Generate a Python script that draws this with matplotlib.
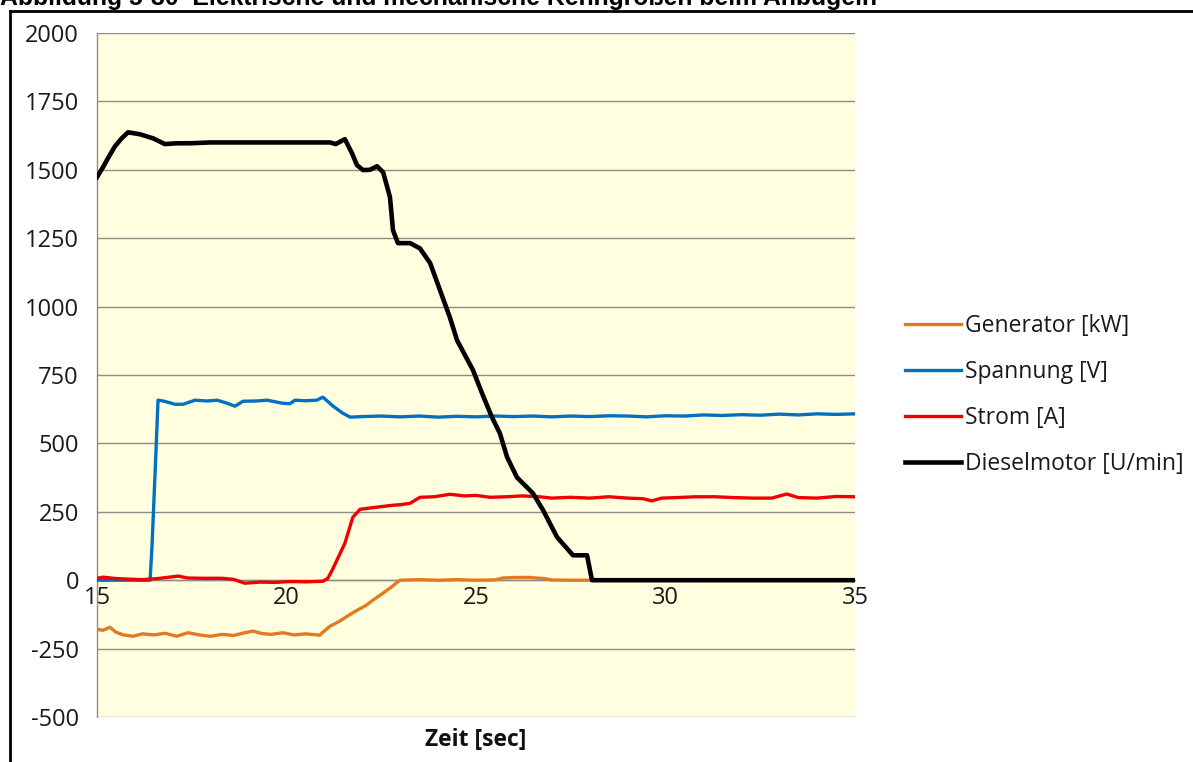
import matplotlib
matplotlib.use("Agg")
import matplotlib.pyplot as plt
from matplotlib.lines import Line2D

plt.rcParams["axes.unicode_minus"] = False

# ---------------- data ----------------
gen_t = [15.0, 15.16, 15.34, 15.5, 15.7, 15.95, 16.2, 16.5, 16.8, 17.1, 17.4, 17.7, 17.98,
         18.3, 18.6, 18.9, 19.12, 19.35, 19.6, 19.9, 20.2, 20.5, 20.88, 20.96, 21.15, 21.4,
         21.6, 21.86, 22.1, 22.28, 22.5, 22.73, 22.99, 23.5, 24.0, 24.5, 25.0, 25.5, 25.7,
         26.0, 26.4, 26.8, 27.0, 27.5, 28.0, 29.0, 30.0, 32.0, 35.0]
gen_v = [-180, -183, -172, -190, -200, -205, -196, -200, -194, -205, -192, -200, -205,
         -198, -202, -192, -186, -195, -198, -192, -200, -196, -201, -190, -168, -150,
         -132, -110, -92, -73, -52, -29, 0, 2, 0, 2, 0, 1, 8, 10, 10, 6, 1, 0, 0, 0, 0, 0, 0]

spg_t = [15.0, 16.0, 16.4, 16.45, 16.55, 16.61, 16.75, 17.06, 17.27, 17.59, 17.9, 18.17,
         18.43, 18.64, 18.85, 19.2, 19.49, 19.88, 20.09, 20.22, 20.5, 20.8, 20.96, 21.23,
         21.49, 21.68, 22.0, 22.5, 23.0, 23.5, 24.0, 24.5, 25.0, 25.5, 26.0, 26.5, 27.0,
         27.5, 28.0, 28.5, 29.0, 29.5, 30.0, 30.5, 31.0, 31.5, 32.0, 32.5, 33.0, 33.5,
         34.0, 34.5, 35.0]
spg_v = [0, 0, 0, 120, 450, 658, 655, 643, 643, 658, 655, 658,
         647, 636, 654, 655, 658, 647, 645, 658, 656, 658, 669, 636,
         610, 596, 598, 600, 597, 600, 596, 599, 597, 600, 598, 600, 597,
         600, 598, 601, 600, 597, 601, 600, 604, 602, 605, 603, 607, 604,
         608, 606, 608]

str_t = [15.0, 15.16, 15.5, 15.8, 16.2, 16.6, 17.14, 17.4, 17.8, 18.3, 18.6, 18.9,
         19.3, 19.7, 20.1, 20.5, 20.96, 21.09, 21.2, 21.33, 21.54, 21.75, 21.94, 22.1,
         22.39, 22.81, 23.0, 23.26, 23.52, 23.9, 24.31, 24.7, 25.0, 25.37, 25.8, 26.2,
         26.6, 27.0, 27.5, 28.0, 28.5, 29.0, 29.4, 29.64, 29.9, 30.3, 30.8, 31.3, 31.8,
         32.3, 32.8, 33.2, 33.5, 34.0, 34.5, 35.0]
str_v = [7, 11, 6, 4, 2, 6, 15, 8, 7, 7, 3, -11,
         -7, -8, -5, -6, -4, 7, 35, 73, 135, 230, 259, 262,
         267, 274, 276, 281, 303, 305, 314, 308, 310, 303, 305, 308,
         306, 300, 303, 300, 305, 300, 298, 290, 300, 302, 305, 305, 302,
         300, 300, 315, 302, 300, 306, 305]

die_t = [15.0, 15.16, 15.3, 15.47, 15.65, 15.82, 16.13, 16.48, 16.79, 17.11, 17.45, 18.0,
         19.0, 20.0, 21.0, 21.15, 21.3, 21.54, 21.73, 21.86, 22.02, 22.2, 22.39, 22.55,
         22.73, 22.81, 22.94, 23.26, 23.52, 23.79, 24.05, 24.31, 24.5, 24.92, 25.16,
         25.42, 25.63, 25.82, 26.08, 26.5, 26.77, 27.14, 27.56, 27.93, 28.06, 29.0,
         30.0, 32.0, 35.0]
die_v = [1473, 1510, 1545, 1585, 1615, 1637, 1630, 1615, 1594, 1597, 1597, 1600,
         1600, 1600, 1600, 1600, 1594, 1612, 1560, 1517, 1499, 1500, 1513, 1491,
         1400, 1279, 1232, 1232, 1213, 1159, 1060, 961, 877, 768, 683,
         596, 537, 450, 376, 318, 256, 157, 91, 91, 0, 0,
         0, 0, 0]

series_names = ["Generator [kW]", "Spannung [V]", "Strom [A]", "Dieselmotor [U/min]"]
x_ticks = [15, 20, 25, 30, 35]
y_ticks = [-500, -250, 0, 250, 500, 750, 1000, 1250, 1500, 1750, 2000]

# ---------------- figure ----------------
W, H = 1193, 762
fig = plt.figure(figsize=(W / 100, H / 100), dpi=100)
fig.patch.set_facecolor("white")

FONT = "Open Sans"
FS = 16.5

ax = fig.add_axes([97 / W, 1 - 717 / H, (855 - 97) / W, (717 - 33) / H])
ax.set_facecolor("#FFFFE0")

colors = ["#E07B22", "#0070C0", "#F00000", "#000000"]
lws = [2.4, 2.4, 2.4, 3.3]
data = [(gen_t, gen_v), (spg_t, spg_v), (str_t, str_v), (die_t, die_v)]
for (t, v), c, lw, name in zip(data, colors, lws, series_names):
    ax.plot(t, v, color=c, lw=lw, label=name, solid_joinstyle="round", zorder=3)

ax.set_xlim(15, 35)
ax.set_ylim(-500, 2000)
ax.set_yticks(y_ticks)
ax.set_xticks(x_ticks)
ax.grid(axis="y", color="#8C8C8C", lw=1.0, zorder=1)
ax.set_axisbelow(True)

for s in ["top", "right"]:
    ax.spines[s].set_visible(False)
ax.spines["left"].set_color("#8C8C8C")
ax.spines["left"].set_linewidth(1.0)
ax.spines["bottom"].set_position(("data", 0))
ax.spines["bottom"].set_color("#8C8C8C")
ax.spines["bottom"].set_linewidth(1.0)

ax.tick_params(axis="both", length=0, labelsize=17, colors="#1A1A1A")
ax.tick_params(axis="y", pad=13)
ax.tick_params(axis="x", pad=4)
for lab in ax.get_xticklabels() + ax.get_yticklabels():
    lab.set_fontfamily(FONT)

fig.text(476 / W, 1 - 740 / H, "Zeit [sec]", ha="center", va="center",
         fontsize=FS, fontweight="bold", family=FONT, color="#111111")

# legend
leg = fig.legend(loc="center left", bbox_to_anchor=(905 / W, 1 - 395 / H),
                 frameon=False, prop={"family": FONT, "size": FS},
                 handlelength=2.45, handletextpad=0.15, labelspacing=0.95,
                 borderaxespad=0, borderpad=0)
for t in leg.get_texts():
    t.set_color("#1A1A1A")

# outer frame (cut off at right/bottom)
fig.add_artist(Line2D([10 / W, 10 / W], [0, 1 - 11 / H], color="black", lw=2.0,
                      transform=fig.transFigure, solid_capstyle="projecting"))
fig.add_artist(Line2D([10 / W, 1.0], [1 - 11 / H, 1 - 11 / H], color="black", lw=2.0,
                      transform=fig.transFigure, solid_capstyle="projecting"))

# title, cut off at top as in the source
fig.text(0 / W, 1 - 5 / H,
         "Abbildung 5-30  Elektrische und mechanische Kenngrößen beim Anbügeln",
         ha="left", va="baseline", fontsize=17.8, fontweight="bold",
         family="Liberation Sans", color="black")

fig.savefig("out.png", dpi=100, facecolor="white")
